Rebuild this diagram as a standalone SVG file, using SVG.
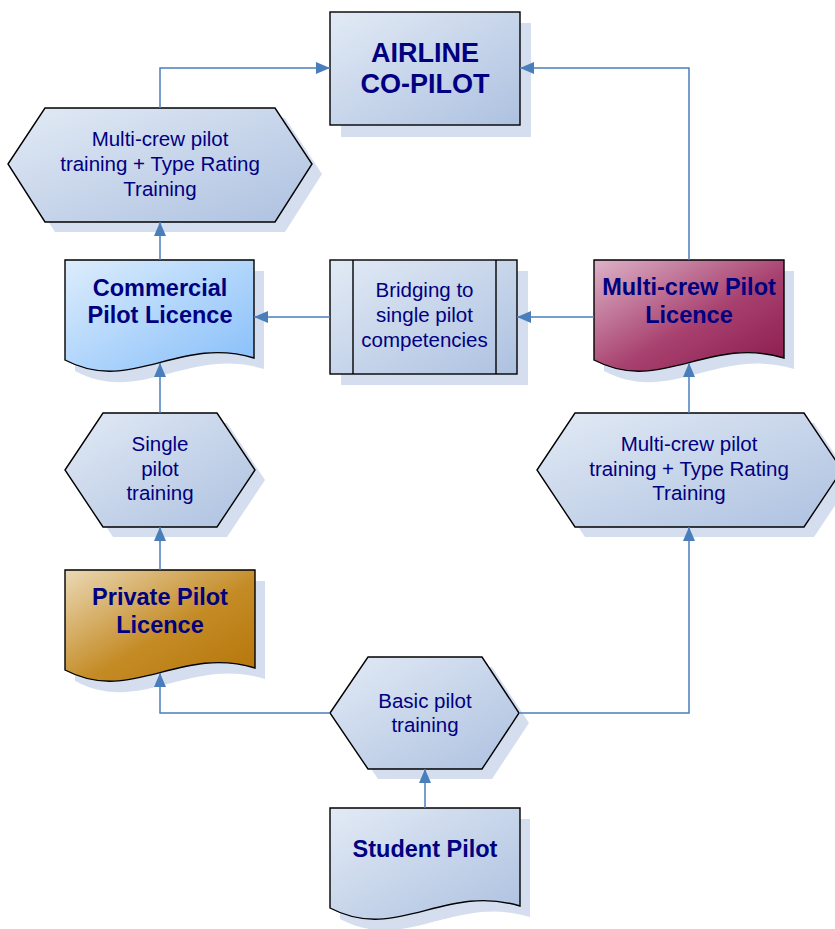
<svg xmlns="http://www.w3.org/2000/svg" width="835" height="929" viewBox="0 0 835 929">
<style>
.shape{stroke:#000;stroke-width:1.4}
.shadow{fill:#c9d6ea;opacity:0.8}
.bl{fill:url(#gBlue)}
.t{font-family:"Liberation Sans",Arial,sans-serif;fill:#000080;text-anchor:middle}
.r{font-size:20.5px}
.b{font-size:23.5px;font-weight:bold}
.a{font-size:27px;font-weight:bold}
.c{fill:none;stroke:#4a7ebb;stroke-width:1.5;marker-end:url(#arr)}
</style>
<defs>
<linearGradient id="gBlue" x1="0" y1="0" x2="1" y2="1">
<stop offset="0" stop-color="#e2eaf5"/><stop offset="1" stop-color="#adc1e0"/>
</linearGradient>
<linearGradient id="gCpl" x1="0" y1="0" x2="1" y2="1">
<stop offset="0" stop-color="#dcedfc"/><stop offset="1" stop-color="#86befa"/>
</linearGradient>
<linearGradient id="gMpl" x1="0" y1="0" x2="1" y2="1">
<stop offset="0" stop-color="#ddb3c8"/><stop offset="0.55" stop-color="#a8416f"/><stop offset="1" stop-color="#8a1a4c"/>
</linearGradient>
<linearGradient id="gPpl" x1="0" y1="0" x2="1" y2="1">
<stop offset="0" stop-color="#ebd9b6"/><stop offset="0.55" stop-color="#c48b25"/><stop offset="1" stop-color="#b57408"/>
</linearGradient>
<marker id="arr" markerUnits="userSpaceOnUse" markerWidth="14" markerHeight="12" refX="14" refY="6" orient="auto">
<path d="M0,0 L14,6 L0,12 z" fill="#4a7ebb"/>
</marker>
</defs>

<g id="airline">
<rect class="shadow" x="341" y="23" width="190" height="114"/>
<rect class="shape bl" x="330" y="12" width="190" height="113"/>
<text class="t a" x="425" y="62">AIRLINE</text>
<text class="t a" x="425" y="93">CO-PILOT</text>
</g>

<g id="hex-mcp-left">
<polygon class="shadow" points="18,174 55,118 285,118 322,174 285,232 55,232"/>
<polygon class="shape bl" points="8,164 45,108 275,108 312,164 275,222 45,222"/>
<text class="t r" x="160" y="146">Multi-crew pilot</text>
<text class="t r" x="160" y="171">training + Type Rating</text>
<text class="t r" x="160" y="196">Training</text>
</g>

<g id="cpl">
<path class="shadow" d="M75,271 H264 V369 C188.4,346 141.2,406 75,371 Z"/>
<path class="shape" fill="url(#gCpl)" d="M65,260 H254 V358 C178.4,335 131.2,395 65,360 Z"/>
<text class="t b" x="160" y="296">Commercial</text>
<text class="t b" x="160" y="323">Pilot Licence</text>
</g>

<g id="bridging">
<rect class="shadow" x="341" y="271" width="187" height="114"/>
<rect class="shape bl" x="330" y="260" width="187" height="114"/>
<line class="shape" x1="353" y1="260" x2="353" y2="374"/>
<line class="shape" x1="496" y1="260" x2="496" y2="374"/>
<text class="t r" x="424.5" y="297">Bridging to</text>
<text class="t r" x="424.5" y="322">single pilot</text>
<text class="t r" x="424.5" y="347">competencies</text>
</g>

<g id="mpl">
<path class="shadow" d="M604,271 H794 V369 C718,346 670.5,406 604,371 Z"/>
<path class="shape" fill="url(#gMpl)" d="M594,260 H784 V358 C708,335 660.5,395 594,360 Z"/>
<text class="t b" x="689" y="295">Multi-crew Pilot</text>
<text class="t b" x="689" y="323">Licence</text>
</g>

<g id="hex-single">
<polygon class="shadow" points="75,480 113,423 227,423 265,480 227,537 113,537"/>
<polygon class="shape bl" points="65,470 103,413 217,413 255,470 217,527 103,527"/>
<text class="t r" x="160" y="451">Single</text>
<text class="t r" x="160" y="476">pilot</text>
<text class="t r" x="160" y="500">training</text>
</g>

<g id="hex-mcp-right">
<polygon class="shadow" points="547,480 585,423 814,423 852,480 814,537 585,537"/>
<polygon class="shape bl" points="537,470 575,413 804,413 842,470 804,527 575,527"/>
<text class="t r" x="689" y="451">Multi-crew pilot</text>
<text class="t r" x="689" y="476">training + Type Rating</text>
<text class="t r" x="689" y="500">Training</text>
</g>

<g id="ppl">
<path class="shadow" d="M75,581 H265 V679 C189,656 141.5,716 75,681 Z"/>
<path class="shape" fill="url(#gPpl)" d="M65,570 H255 V668 C179,645 131.5,705 65,670 Z"/>
<text class="t b" x="160" y="605">Private Pilot</text>
<text class="t b" x="160" y="633">Licence</text>
</g>

<g id="hex-basic">
<polygon class="shadow" points="340,723 378,667 492,667 529,723 492,779 378,779"/>
<polygon class="shape bl" points="330,713 368,657 482,657 519,713 482,769 368,769"/>
<text class="t r" x="425" y="708">Basic pilot</text>
<text class="t r" x="425" y="732">training</text>
</g>

<g id="student">
<path class="shadow" d="M340,819 H530 V917 C454,894 406.5,954 340,919 Z"/>
<path class="shape bl" d="M330,808 H520 V906 C444,883 396.5,943 330,908 Z"/>
<text class="t b" x="425" y="857">Student Pilot</text>
</g>

<g id="connectors">
<path class="c" d="M425,808 V769"/>
<path class="c" d="M330,713 H160 V673"/>
<path class="c" d="M519,713 H689 V527"/>
<path class="c" d="M689,413 V363"/>
<path class="c" d="M689,260 V68 H520"/>
<path class="c" d="M594,317 H517"/>
<path class="c" d="M330,317 H254"/>
<path class="c" d="M160,570 V527"/>
<path class="c" d="M160,413 V363"/>
<path class="c" d="M160,260 V222"/>
<path class="c" d="M160,108 V68 H330"/>
</g>
</svg>
